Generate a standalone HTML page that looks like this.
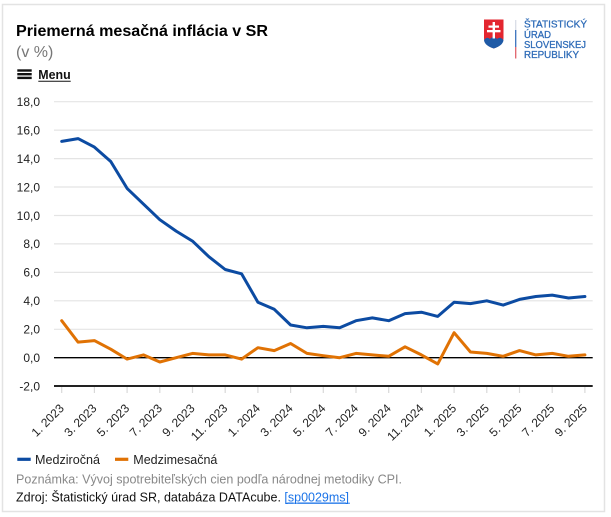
<!DOCTYPE html>
<html><head><meta charset="utf-8">
<style>
html,body{margin:0;padding:0;background:#fff;}
svg{display:block;font-family:"Liberation Sans",Arial,sans-serif;}
</style></head>
<body>
<svg width="611" height="517" viewBox="0 0 611 517" xmlns="http://www.w3.org/2000/svg">
<rect x="0" y="0" width="611" height="517" fill="#fff"/>
<rect x="2.5" y="4.5" width="602" height="507" fill="#fff" stroke="#e3e3e3" stroke-width="1.5"/>

<!-- Title -->
<text x="16" y="36" font-size="16" font-weight="bold" fill="#000" textLength="252" lengthAdjust="spacingAndGlyphs">Priemerná mesačná inflácia v SR</text>
<text x="16" y="57" font-size="16" fill="#777">(v %)</text>

<!-- Menu -->
<rect x="17.3" y="69.3" width="14.4" height="2.4" fill="#111"/>
<rect x="17.3" y="73" width="14.4" height="2.4" fill="#111"/>
<rect x="17.3" y="76.7" width="14.4" height="2.4" fill="#111"/>
<text x="38.3" y="79" font-size="12.5" font-weight="bold" fill="#111" textLength="32.4" lengthAdjust="spacingAndGlyphs">Menu</text>
<line x1="38.3" y1="81.3" x2="70.7" y2="81.3" stroke="#111" stroke-width="1"/>

<!-- Logo -->
<path d="M484 19.5 H503.5 V38 Q503.5 45 493.75 48.5 Q484 45 484 38 Z" fill="#e3262f"/>
<path d="M484 40 Q487 36 490 39 Q493.5 35 497 39 Q500 36 503.5 40 Q503 45.5 493.75 48.5 Q484.5 45.5 484 40 Z" fill="#1f5aa6"/>
<rect x="492.6" y="22" width="2.4" height="16.5" fill="#fff"/>
<rect x="488.5" y="25.5" width="10.5" height="2.2" fill="#fff"/>
<rect x="487" y="30" width="13.5" height="2.3" fill="#fff"/>
<line x1="515.7" y1="20" x2="515.7" y2="30" stroke="#d9dde6" stroke-width="1.3"/>
<line x1="515.7" y1="30" x2="515.7" y2="47" stroke="#3a72bd" stroke-width="1.3"/>
<line x1="515.7" y1="47" x2="515.7" y2="58.5" stroke="#e0636a" stroke-width="1.3"/>
<g font-size="10.5" fill="#2f6cb8" stroke="#2f6cb8" stroke-width="0.3">
<text x="524" y="27.6" textLength="63" lengthAdjust="spacingAndGlyphs">ŠTATISTICKÝ</text>
<text x="524" y="37.8" textLength="27" lengthAdjust="spacingAndGlyphs">ÚRAD</text>
<text x="524" y="47.9" textLength="62" lengthAdjust="spacingAndGlyphs">SLOVENSKEJ</text>
<text x="524" y="58.1" textLength="55" lengthAdjust="spacingAndGlyphs">REPUBLIKY</text>
</g>

<!-- Gridlines -->
<g stroke="#e4e4e4" stroke-width="1.2">
<line x1="54" y1="101.7" x2="592.7" y2="101.7"/>
<line x1="54" y1="130.1" x2="592.7" y2="130.1"/>
<line x1="54" y1="158.6" x2="592.7" y2="158.6"/>
<line x1="54" y1="187.0" x2="592.7" y2="187.0"/>
<line x1="54" y1="215.5" x2="592.7" y2="215.5"/>
<line x1="54" y1="243.9" x2="592.7" y2="243.9"/>
<line x1="54" y1="272.4" x2="592.7" y2="272.4"/>
<line x1="54" y1="300.8" x2="592.7" y2="300.8"/>
<line x1="54" y1="329.3" x2="592.7" y2="329.3"/>
</g>
<line x1="54" y1="357.7" x2="592.7" y2="357.7" stroke="#000" stroke-width="1.4"/>
<line x1="54" y1="386" x2="592.7" y2="386" stroke="#222" stroke-width="2"/>

<!-- Y labels -->
<g font-size="12" fill="#222" text-anchor="end">
<text x="40" y="106">18,0</text>
<text x="40" y="134.4">16,0</text>
<text x="40" y="162.9">14,0</text>
<text x="40" y="191.3">12,0</text>
<text x="40" y="219.8">10,0</text>
<text x="40" y="248.2">8,0</text>
<text x="40" y="276.7">6,0</text>
<text x="40" y="305.1">4,0</text>
<text x="40" y="333.6">2,0</text>
<text x="40" y="362">0,0</text>
<text x="40" y="390.3">-2,0</text>
</g>

<!-- X ticks -->
<g stroke="#d8d8d8" stroke-width="1.2">
<line x1="61.7" y1="387" x2="61.7" y2="393"/>
<line x1="94.4" y1="387" x2="94.4" y2="393"/>
<line x1="127.1" y1="387" x2="127.1" y2="393"/>
<line x1="159.8" y1="387" x2="159.8" y2="393"/>
<line x1="192.5" y1="387" x2="192.5" y2="393"/>
<line x1="225.2" y1="387" x2="225.2" y2="393"/>
<line x1="257.9" y1="387" x2="257.9" y2="393"/>
<line x1="290.6" y1="387" x2="290.6" y2="393"/>
<line x1="323.3" y1="387" x2="323.3" y2="393"/>
<line x1="356.0" y1="387" x2="356.0" y2="393"/>
<line x1="388.7" y1="387" x2="388.7" y2="393"/>
<line x1="421.4" y1="387" x2="421.4" y2="393"/>
<line x1="454.1" y1="387" x2="454.1" y2="393"/>
<line x1="486.8" y1="387" x2="486.8" y2="393"/>
<line x1="519.5" y1="387" x2="519.5" y2="393"/>
<line x1="552.2" y1="387" x2="552.2" y2="393"/>
<line x1="584.9" y1="387" x2="584.9" y2="393"/>
</g>

<!-- X labels -->
<g font-size="12" fill="#222" text-anchor="end">
<text transform="translate(64.7,409) rotate(-45)">1. 2023</text>
<text transform="translate(97.4,409) rotate(-45)">3. 2023</text>
<text transform="translate(130.1,409) rotate(-45)">5. 2023</text>
<text transform="translate(162.8,409) rotate(-45)">7. 2023</text>
<text transform="translate(195.5,409) rotate(-45)">9. 2023</text>
<text transform="translate(228.2,409) rotate(-45)">11. 2023</text>
<text transform="translate(260.9,409) rotate(-45)">1. 2024</text>
<text transform="translate(293.6,409) rotate(-45)">3. 2024</text>
<text transform="translate(326.3,409) rotate(-45)">5. 2024</text>
<text transform="translate(359.0,409) rotate(-45)">7. 2024</text>
<text transform="translate(391.7,409) rotate(-45)">9. 2024</text>
<text transform="translate(424.4,409) rotate(-45)">11. 2024</text>
<text transform="translate(457.1,409) rotate(-45)">1. 2025</text>
<text transform="translate(489.8,409) rotate(-45)">3. 2025</text>
<text transform="translate(522.5,409) rotate(-45)">5. 2025</text>
<text transform="translate(555.2,409) rotate(-45)">7. 2025</text>
<text transform="translate(587.9,409) rotate(-45)">9. 2025</text>
</g>

<!-- Series: Medziročná (blue) -->
<polyline fill="none" stroke="#0c4ba2" stroke-width="3" stroke-linejoin="round" stroke-linecap="round" points="
61.7,141.4 78.05,138.6 94.4,147.1 110.75,161.5 127.1,188.4 143.45,204.1 159.8,219.7 176.15,231.1 192.5,241.1 208.85,256.7 225.2,269.5 241.55,273.8 257.9,302.2 274.25,309.3 290.6,325.0 306.95,327.8 323.3,326.4 339.65,327.8 356.0,320.7 372.35,317.9 388.7,320.7 405.05,313.6 421.4,312.2 437.75,316.4 454.1,302.2 470.45,303.6 486.8,300.8 503.15,305.1 519.5,299.4 535.85,296.5 552.2,295.1 568.55,298.0 584.9,296.5"/>

<!-- Series: Medzimesačná (orange) -->
<polyline fill="none" stroke="#e07204" stroke-width="3" stroke-linejoin="round" stroke-linecap="round" points="
61.7,320.7 78.05,342.1 94.4,340.6 110.75,349.2 127.1,359.1 143.45,354.9 159.8,362.0 176.15,357.7 192.5,353.4 208.85,354.9 225.2,354.9 241.55,359.1 257.9,347.7 274.25,350.6 290.6,343.5 306.95,353.4 323.3,355.7 339.65,357.7 356.0,353.4 372.35,354.9 388.7,356.3 405.05,346.8 421.4,354.9 437.75,363.9 454.1,332.7 470.45,352.0 486.8,353.4 503.15,356.3 519.5,350.6 535.85,354.9 552.2,353.4 568.55,356.3 584.9,354.9"/>

<!-- Legend -->
<line x1="17.3" y1="459.3" x2="30.7" y2="459.3" stroke="#0c4ba2" stroke-width="3.2"/>
<text x="35" y="463.8" font-size="12.5" fill="#222" textLength="65" lengthAdjust="spacingAndGlyphs">Medziročná</text>
<line x1="115" y1="459.3" x2="128.3" y2="459.3" stroke="#e07204" stroke-width="3.2"/>
<text x="133.3" y="463.8" font-size="12.5" fill="#222">Medzimesačná</text>

<!-- Footer -->
<text x="16" y="483.5" font-size="12.5" fill="#888" textLength="386" lengthAdjust="spacingAndGlyphs">Poznámka: Vývoj spotrebiteľských cien podľa národnej metodiky CPI.</text>
<text x="16" y="501.5" font-size="12.5" fill="#111">Zdroj: Štatistický úrad SR, databáza DATAcube. <tspan fill="#1a73e8" text-decoration="underline">[sp0029ms]</tspan></text>
<line x1="286" y1="503.2" x2="350" y2="503.2" stroke="#1a73e8" stroke-width="0.9"/>
</svg>
</body></html>
